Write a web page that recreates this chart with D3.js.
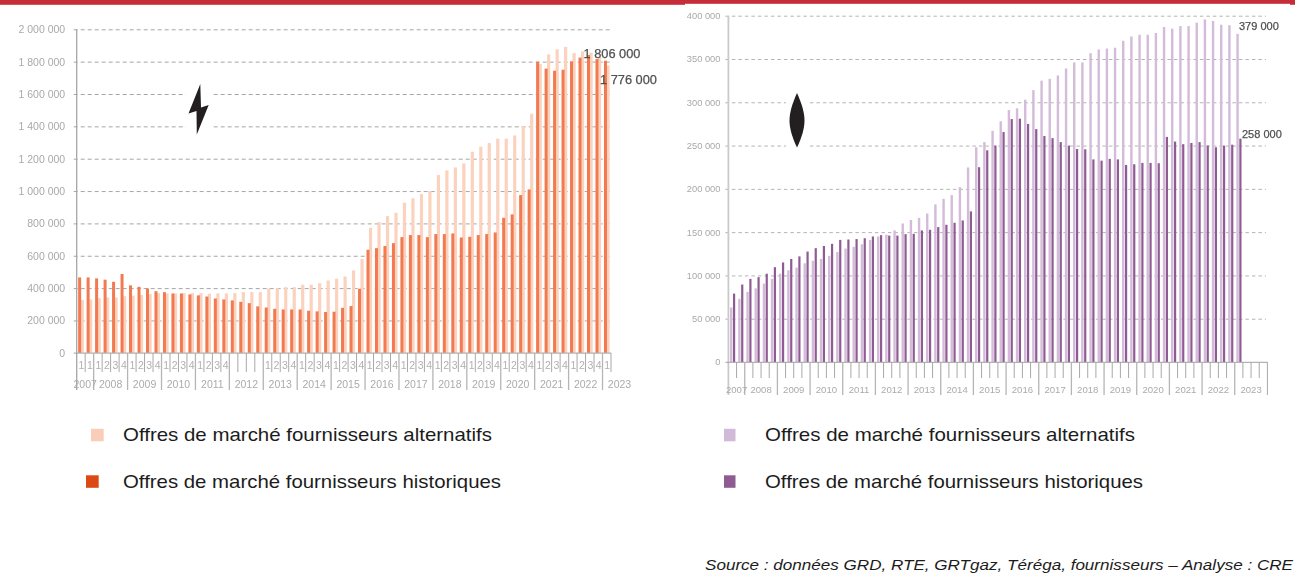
<!DOCTYPE html>
<html><head><meta charset="utf-8">
<script src="https://cdn.jsdelivr.net/npm/d3@7"></script>
<style>
html,body{margin:0;padding:0;background:#fff;overflow:hidden}
svg{display:block}
text{font-family:"Liberation Sans",Arial,sans-serif}
.blur{filter:blur(0.4px)}
</style></head><body>
<svg id="c" width="1295" height="573"></svg>
<script>
const quarters = ["2007-3","2007-4"];
const years = [2008,2009,2010,2011,2012,2013,2014,2015,2016,2017,2018,2019,2020,2021,2022];
years.forEach(y => [1,2,3,4].forEach(q => quarters.push(y + "-" + q)));
const quartersElec = quarters.concat(["2023-1"]);
const quartersGas = quarters.concat(["2023-1","2023-2","2023-3","2023-4"]);
const elecTicks = [0,200000,400000,600000,800000,1000000,1200000,1400000,1600000,1800000,2000000];
const gasTicks = [0,50000,100000,150000,200000,250000,300000,350000,400000];

const elecHistoriques = [466000,466000,460000,452000,439000,487000,417000,408000,398000,381000,375000,367000,367000,361000,355000,348000,336000,330000,324000,315000,307000,287000,280000,272000,268000,268000,268000,260000,256000,252000,254000,278000,289000,396000,637000,647000,660000,678000,715000,728000,728000,715000,734000,734000,738000,713000,717000,728000,734000,744000,835000,856000,975000,1010000,1800000,1757000,1744000,1750000,1802000,1825000,1841000,1816000,1806000];
const elecAlternatifs = [326000,330000,338000,342000,342000,350000,353000,357000,363000,369000,367000,367000,369000,369000,369000,365000,367000,367000,369000,375000,375000,375000,398000,400000,406000,406000,421000,421000,431000,447000,458000,472000,509000,579000,773000,808000,845000,866000,928000,955000,981000,1000000,1099000,1128000,1146000,1171000,1243000,1274000,1297000,1324000,1324000,1344000,1402000,1478000,1785000,1845000,1876000,1891000,1853000,1864000,1856000,1831000,1776000];
const gasHistoriques = [79000,89500,96000,98000,102000,109500,115000,119000,122000,127600,131500,134000,136500,141000,141500,142000,143000,145000,146500,146000,146000,147700,148000,152000,152700,155800,158500,160800,163500,174000,225000,244500,250000,265600,280600,281000,275000,269000,261000,258600,254000,250000,246000,245700,234000,232600,234600,234000,227600,228400,230000,230000,229600,260000,254600,251600,253000,254000,250000,248000,250000,251000,258000];
const gasAlternatifs = [63000,73000,81000,85000,90600,96000,102000,106000,109000,114000,117000,119000,122600,127000,131000,133000,136000,141000,145000,147000,152000,160000,164000,166500,171500,182000,188500,192800,202000,224700,248000,254000,267000,278000,291000,293000,303000,314000,325000,327000,331000,339000,346000,346000,356700,361000,362000,363000,371000,376000,378000,378000,380000,387000,385000,388000,388000,392000,395700,394000,389600,389000,379000];

const legendAlt = "Offres de marché fournisseurs alternatifs";
const legendHist = "Offres de marché fournisseurs historiques";
const sourceText = "Source : données GRD, RTE, GRTgaz, Téréga, fournisseurs – Analyse : CRE";

const fmt = d3.formatLocale({decimal:",",thousands:" ",grouping:[3],currency:["",""]}).format(",");
const svg = d3.select("#c");
svg.append("rect").attr("width",1295).attr("height",573).attr("fill","#fff");

// bandeau rouge
const red = "#C62D38";
svg.append("rect").attr("x",0).attr("y",0).attr("width",1295).attr("height",3.8).attr("fill",red);
svg.append("rect").attr("x",0).attr("y",0).attr("width",685).attr("height",4.8).attr("fill",red);
svg.append("rect").attr("x",1290).attr("y",0).attr("width",5).attr("height",4.8).attr("fill",red);

function panel(o){
  const x = d3.scaleBand().domain(o.quarters).range([o.x0,o.x1]).padding(0);
  const y = d3.scaleLinear().domain([0,o.max]).range([o.y0,o.y1]);
  const g = svg.append("g").attr("class","blur");

  // grille + graduations Y
  const ya = d3.axisLeft(y).tickValues(o.ticks).tickFormat(fmt).tickSize(0).tickPadding(o.tickPad);
  const yg = g.append("g").attr("transform",`translate(${o.x0},0)`).call(ya);
  yg.select(".domain").remove();
  yg.selectAll("text").attr("fill",o.tickColor).attr("font-size",o.tickFont)
    .style("font-family",'"Liberation Sans",Arial,sans-serif');
  g.append("g").selectAll("line").data(o.ticks.filter(d=>d>0)).join("line")
    .attr("x1",o.x0-3).attr("x2",o.gridEnd).attr("y1",d=>y(d)+.5).attr("y2",d=>y(d)+.5)
    .attr("stroke",o.gridColor).attr("stroke-width",o.gridW).attr("stroke-dasharray",o.gridDash);

  // masque et icone
  g.append("rect").attr("x",o.maskX).attr("y",y(o.maskTop)-6).attr("width",o.maskW).attr("height",y(o.maskBot)-y(o.maskTop)+12).attr("fill","#fff");
  g.append("path").attr("d",o.icon).attr("fill","#231f20");

  // barres
  const bw = x.bandwidth();
  const bars = (vals,color,off,w)=>g.append("g").selectAll("rect").data(vals).join("rect")
    .attr("x",(d,i)=>x(o.quarters[i])+off*bw).attr("width",w)
    .attr("y",d=>y(d)).attr("height",d=>o.y0-y(d)).attr("fill",color);
  o.series.forEach(s=>bars(s.values,s.color,s.off,s.w));

  // axes
  g.append("line").attr("x1",o.x0).attr("x2",o.x0).attr("y1",o.y1).attr("y2",o.yearTickEnd)
    .attr("stroke",o.axisColor).attr("stroke-width",o.axisW);
  g.append("line").attr("x1",o.x0-3).attr("x2",o.x1).attr("y1",o.y0+.3).attr("y2",o.y0+.3)
    .attr("stroke","#a0a0a0").attr("stroke-width",1);

  const all = o.quarters;
  const step = x.step();
  all.forEach((q,i)=>{
    if(i===0) return;
    const isYear = q.endsWith("-1");
    g.append("line").attr("x1",x(q)).attr("x2",x(q)).attr("y1",o.y0)
      .attr("y2",isYear?o.yearTickEnd:o.qTickEnd)
      .attr("stroke",isYear?"#b5b5b5":"#a8a8a8").attr("stroke-width",isYear?1.3:1);
  });
  g.append("line").attr("x1",o.x1).attr("x2",o.x1).attr("y1",o.y0).attr("y2",o.endTick)
    .attr("stroke","#a8a8a8").attr("stroke-width",1);

  if(o.qLabels){
    g.append("g").selectAll("text").data(all.filter(q=>!q.startsWith("2012"))).join("text")
      .attr("x",q=>x(q)+bw/2+.5).attr("y",o.qLabelY).attr("text-anchor","middle")
      .attr("font-size",o.yearFont).attr("fill","#b0b0b0")
      .text((q,i)=>q==="2007-3"||q==="2007-4"?"1":q.split("-")[1]);
  }
  const yrs = [2007].concat(years,[2023]);
  g.append("g").selectAll("text").data(yrs).join("text")
    .attr("x",yr=>yr===2007?x("2007-3")+step:x(yr+"-1")+2*step)
    .attr("y",o.yearLabelY).attr("text-anchor","middle")
    .attr("font-size",o.yearFont).attr("fill","#ababab").text(yr=>yr);

  // etiquettes de valeur
  o.labels.forEach(l=>{
    g.append("text").attr("x",l.x).attr("y",l.y).attr("font-size",o.valFont)
      .attr("fill","#505050").attr("stroke","#505050").attr("stroke-width",.25).text(fmt(l.v));
  });

  // legende
  const lg = svg.append("g");
  [[o.leg[0],legendAlt,o.series.find(s=>s.alt).legend,435],[o.leg[1],legendHist,o.series.find(s=>!s.alt).legend,481.5]].forEach(([sx,t,c,cy])=>{
    lg.append("rect").attr("x",sx).attr("y",cy-6.2).attr("width",o.legW).attr("height",12.5).attr("fill",c);
    lg.append("text").attr("x",o.legText).attr("y",cy+6).attr("font-size",19).attr("fill","#1c1c1c")
      .attr("textLength",t===legendAlt?o.legLen[0]:o.legLen[1]).attr("lengthAdjust","spacingAndGlyphs").text(t);
  });
}

panel({
  quarters:quartersElec,x0:76.7,x1:611,y0:352.8,y1:29.3,max:2000000,ticks:elecTicks,gridEnd:611,gridW:1,
  gridColor:"#a6a6a6",gridDash:"4 3",
  tickPad:11.5,tickFont:10.5,tickColor:"#a9a9a9",axisColor:"#a6a6a6",axisW:1.3,
  maskX:185.7,maskW:26.6,maskTop:1600000,maskBot:1400000,
  icon:"M200.3,84 L188.5,113.5 L196.5,111 L196.8,134.5 L208.7,105 L201,107.5 Z",
  series:[
    {values:elecAlternatifs,color:"#FBD2BE",legend:"#FACDB8",off:.46,w:3.2,alt:true},
    {values:elecHistoriques,color:"#F27A50",legend:"#DC4915",off:.17,w:3,alt:false}
  ],
  qTickEnd:372,yearTickEnd:390,endTick:372,qLabels:true,qLabelY:369,yearLabelY:388,yearFont:10.5,
  valFont:12.8,
  labels:[{v:1806000,x:583.5,y:57.5},{v:1776000,x:600,y:84}],
  leg:[91,86],legW:12.7,legText:123,legLen:[369,378]
});
panel({
  quarters:quartersGas,x0:728.4,x1:1267.4,y0:362,y1:15.7,max:400000,ticks:gasTicks,gridEnd:1266,gridW:1,
  gridColor:"#b4b4b4",gridDash:"3.5 3",
  tickPad:8,tickFont:9.3,tickColor:"#a9a9a9",axisColor:"#c9c9c9",axisW:1.8,
  maskX:786,maskW:23.3,maskTop:300000,maskBot:250000,
  icon:"M797,93 C792,104 789.5,113 789.5,120.5 C789.5,128 792,137 797,147.5 C802,137 804.5,128 804.5,120.5 C804.5,113 802,104 797,93 Z",
  series:[
    {values:gasAlternatifs,color:"#D3BBD9",legend:"#D1B9D8",off:.2,w:2.4,alt:true},
    {values:gasHistoriques,color:"#8E5C92",legend:"#8E5C92",off:.56,w:2.2,alt:false}
  ],
  qTickEnd:378,yearTickEnd:395,endTick:395,qLabels:false,yearLabelY:393,yearFont:9.6,
  valFont:11,
  labels:[{v:379000,x:1239,y:30},{v:258000,x:1242,y:138}],
  leg:[724,724],legW:11.5,legText:765,legLen:[370,378]
});

svg.append("text").attr("x",705).attr("y",569.5).attr("font-size",14).attr("font-style","italic")
  .attr("fill","#1c1c1c").attr("textLength",588).attr("lengthAdjust","spacingAndGlyphs").text(sourceText);
</script>
</body></html>
